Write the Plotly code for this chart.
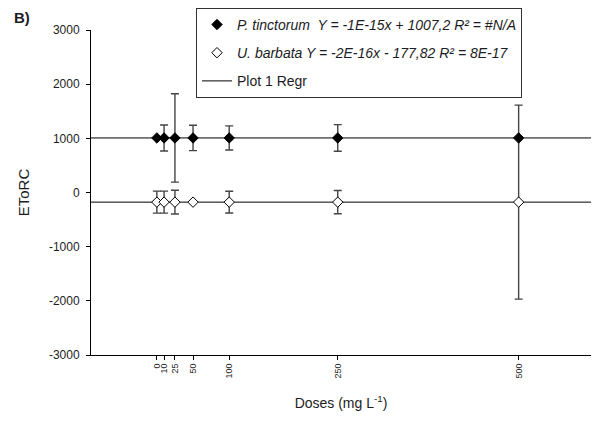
import plotly.graph_objects as go

# ---- data ----
doses = [0, 10, 25, 50, 100, 250, 500]
dose_labels = ["0", "10", "25", "50", "100", "250", "500"]

p_tinctorum = [1007.2, 1007.2, 1007.2, 1007.2, 1007.2, 1007.2, 1007.2]
p_tinctorum_err = [None, 240, 815, 235, 222, 245, None]

u_barbata = [-177.82, -177.82, -177.82, -177.82, -177.82, -177.82, -177.82]
u_barbata_err = [203, 203, 220, None, 200, 215, 1790]

# regression fits (slope, intercept)
p_slope, p_intercept = -1e-15, 1007.2
u_slope, u_intercept = -2e-16, -177.82

x_range = [-91, 600]
y_ticks = [3000, 2000, 1000, 0, -1000, -2000, -3000]
y_tick_labels = ["3000", "2000", "1000", "0", "-1000", "-2000", "-3000"]

FONT = "Liberation Sans, Arial, sans-serif"
TXT = "#1c1c24"

fig = go.Figure()

# regression lines
fig.add_trace(go.Scatter(
    x=x_range, y=[p_slope * x + p_intercept for x in x_range],
    mode="lines", line=dict(color="black", width=1),
    name="Plot 1 Regr", legendgroup="c", legendrank=3, showlegend=True))
fig.add_trace(go.Scatter(
    x=x_range, y=[u_slope * x + u_intercept for x in x_range],
    mode="lines", line=dict(color="black", width=1),
    name="Plot 1 Regr", legendgroup="c", showlegend=False))

# U. barbata
fig.add_trace(go.Scatter(
    x=doses, y=u_barbata, mode="markers",
    marker=dict(symbol="diamond", size=8, color="white",
                line=dict(color="black", width=1)),
    error_y=dict(type="data", array=u_barbata_err, visible=True,
                 color="#444444", thickness=1.4, width=4),
    name="<i>U. barbata Y = -2E-16x - 177,82 R² = 8E-17</i>",
    legendgroup="b", legendrank=2))

# P. tinctorum
fig.add_trace(go.Scatter(
    x=doses, y=p_tinctorum, mode="markers",
    marker=dict(symbol="diamond", size=8, color="black",
                line=dict(color="black", width=1)),
    error_y=dict(type="data", array=p_tinctorum_err, visible=True,
                 color="#444444", thickness=1.4, width=4),
    name="<i>P. tinctorum  Y = -1E-15x + 1007,2 R² = #N/A</i>",
    legendgroup="a", legendrank=1))

fig.update_layout(
    width=593, height=415,
    margin=dict(l=83, r=10, t=22, b=68, autoexpand=False),
    paper_bgcolor="white", plot_bgcolor="white",
    font=dict(family=FONT, color=TXT, size=12),
    showlegend=True,
    legend=dict(
        x=0.21, y=1.068, xanchor="left", yanchor="top",
        bordercolor="#333333", borderwidth=1, bgcolor="white",
        font=dict(size=14, family=FONT, color=TXT),
        tracegroupgap=7, itemwidth=30,
    ),
    annotations=[dict(
        text="<b>B)</b>", xref="paper", yref="paper",
        x=-0.158, y=1.037, xanchor="left", yanchor="middle",
        showarrow=False, font=dict(size=15, family=FONT, color=TXT))],
)

fig.update_xaxes(
    range=x_range, tickvals=doses, ticktext=dose_labels, tickangle=-90,
    tickfont=dict(size=9), showgrid=False, zeroline=False,
    showline=True, linecolor="black", linewidth=1,
    ticks="outside", ticklen=4, tickcolor="black",
    title=dict(text="Doses (mg L<sup>-1</sup>)", font=dict(size=14), standoff=20),
)
fig.update_yaxes(
    range=[-3000, 3000], tickvals=y_ticks, ticktext=y_tick_labels,
    tickfont=dict(size=12), showgrid=False, zeroline=False,
    showline=True, linecolor="black", linewidth=1,
    ticks="outside", ticklen=4, tickcolor="black", ticklabelstandoff=4,
    title=dict(text="EToRC", font=dict(size=15), standoff=15),
)

fig.write_html("out.html")
